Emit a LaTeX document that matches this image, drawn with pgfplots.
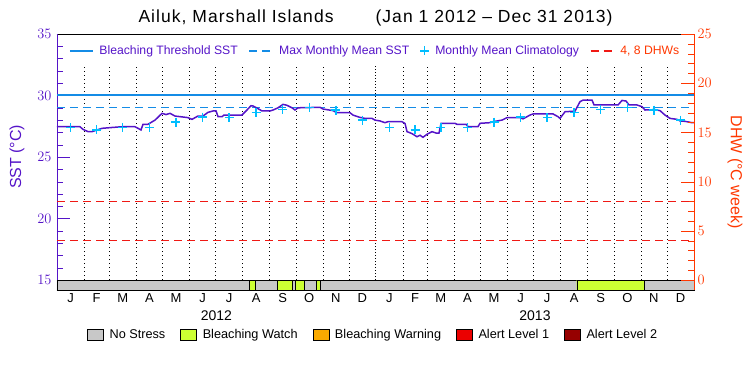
\documentclass[border=0pt]{standalone}
\usepackage{fontspec}
\setmainfont{Liberation Sans}
\usepackage{pgfplots}
\pgfplotsset{compat=1.18}
\definecolor{sst}{RGB}{85,20,200}
\definecolor{thr}{RGB}{20,140,230}
\definecolor{clim}{RGB}{0,190,255}
\definecolor{dhw}{RGB}{255,55,0}
\definecolor{dhwline}{RGB}{240,25,20}
\definecolor{nostress}{RGB}{200,200,200}
\definecolor{watch}{RGB}{204,255,51}
\definecolor{warning}{RGB}{250,170,0}
\definecolor{alertone}{RGB}{235,0,0}
\definecolor{alerttwo}{RGB}{150,0,0}
\pgfplotsset{marklegend/.style={legend image code/.code={\draw[##1] plot coordinates {(4.5pt,0pt)};}}}

\pgfplotstableread{
day sst
0 27.46
26.4 27.46
29.8 27.25
35.6 27.06
40.2 27.06
45.9 27.2
51.6 27.33
63.1 27.4
74.6 27.46
89.5 27.46
93.0 27.33
96.4 27.2
98.7 27.66
104.4 27.66
112.5 28.0
120.5 28.55
125.1 28.45
129.7 28.55
135.4 28.33
144.6 28.25
150.3 28.2
154.9 28.06
158.4 28.2
161.8 28.33
167.5 28.33
173.3 28.63
179.0 28.74
182.5 28.74
184.8 28.28
189.4 28.28
191.6 28.41
212.3 28.41
218.0 28.82
222.6 29.17
224.9 29.15
229.5 28.98
235.3 28.74
244.4 28.74
247.9 28.82
253.6 29.0
259.4 29.28
264.0 29.2
269.7 29.0
273.1 28.82
276.6 29.0
301.8 29.04
305.3 28.9
316.7 28.77
321.3 28.6
336.2 28.6
339.7 28.41
347.7 28.22
353.5 28.14
361.5 28.14
364.9 28.0
370.7 27.93
376.4 27.79
379.8 27.87
395.9 27.87
399.4 27.72
401.7 27.06
407.4 26.9
413.1 26.65
416.6 26.77
420.0 26.6
424.6 26.85
430.3 27.06
434.9 26.95
438.4 26.95
440.7 27.74
456.7 27.74
459.0 27.66
469.4 27.66
471.7 27.47
483.2 27.47
485.4 27.74
496.9 27.79
500.3 27.87
510.7 28.0
516.4 28.2
531.3 28.2
534.8 28.1
539.4 28.28
542.8 28.41
546.3 28.5
569.2 28.5
574.9 28.28
577.2 28.14
583.0 28.68
594.4 28.73
600.2 29.5
603.7 29.63
614.0 29.63
616.3 29.23
643.8 29.23
648.4 29.6
653.0 29.55
656.4 29.23
665.6 29.23
671.4 29.09
674.8 28.82
686.3 28.85
692.0 28.77
697.7 28.41
703.5 28.14
711.5 28.06
715.0 27.93
720.6 27.9
728.7 27.79
731 27.79
}\ssttable

\pgfplotstableread{
day clim
15.5 27.38
45.5 27.2
75.5 27.41
106 27.38
136.5 27.84
167 28.25
197.5 28.2
228.5 28.62
259 28.88
289.5 29.04
320 28.82
350.5 28.0
381.5 27.38
411 27.2
440.5 27.41
471 27.38
501.5 27.84
532 28.25
562.5 28.2
593.5 28.62
624 28.88
654.5 29.04
685 28.82
715.5 28.0
}\climtable

\begin{document}
\begin{tikzpicture}
\useasboundingbox (-57pt,-85pt) rectangle (693pt,290pt);
\begin{axis}[
  at={(0pt,0pt)}, anchor=south west,
  scale only axis, width=637pt, height=256pt,
  xmin=0, xmax=731, ymin=14.187, ymax=35,
  clip=false,
  axis y line*=left,
  y axis line style={draw=sst},
  tick align=inside,
  ytick={15,20,25,30,35}, minor y tick num=4,
  major tick length=13pt, minor tick length=6pt,
  ytick style={draw=sst},
  minor y tick style={draw=sst},
  yticklabel style={text=sst, font=\fontsize{14}{16}\selectfont, xshift=-2pt},
  xtick={15.5,45.5,75.5,106,136.5,167,197.5,228.5,259,289.5,320,350.5,381.5,411,440.5,471,501.5,532,562.5,593.5,624,654.5,685,715.5},
  xticklabels={J,F,M,A,M,J,J,A,S,O,N,D,J,F,M,A,M,J,J,A,S,O,N,D},
  xtick style={draw=none},
  xticklabel style={font=\fontsize{13}{15}\selectfont},
  extra x ticks={183,548.5},
  extra x tick labels={2012,2013},
  extra x tick style={xtick style={draw=none}, xticklabel style={yshift=-17pt, font=\fontsize{14}{16}\selectfont}},
  ylabel={SST (°C)},
  ylabel style={at={(axis description cs:-0.0628,0.52)}, anchor=center, text=sst, font=\fontsize{16}{18}\selectfont},
  title={\addfontfeature{LetterSpace=6}Ailuk, Marshall Islands\hspace{42pt}(Jan 1 2012 -- Dec 31 2013)},
  title style={font=\fontsize{17.5}{19}\selectfont, anchor=base, at={(axis description cs:0.5,1)}, yshift=5pt},
  legend columns=4,
  legend style={at={(axis description cs:0.0188,0.934)}, anchor=west, draw=none, fill=none, inner sep=0pt,
    font=\fontsize{12.2}{14}\selectfont, text=sst, nodes={inner xsep=0pt},
    /tikz/every odd column/.append style={column sep=6pt},
    /tikz/every even column/.append style={column sep=11pt}},
  legend image code/.code={\draw[#1] (0pt,0pt) -- (23pt,0pt);},
]
% status bar
\addplot[fill=nostress, draw=black, forget plot] coordinates {(0,14.187) (731,14.187) (731,15) (0,15) (0,14.187)};
\addplot[fill=watch, draw=black, forget plot] coordinates {(220.7,14.187) (227.6,14.187) (227.6,15) (220.7,15) (220.7,14.187)};
\addplot[fill=watch, draw=black, forget plot] coordinates {(252.8,14.187) (270.0,14.187) (270.0,15) (252.8,15) (252.8,14.187)};
\addplot[fill=watch, draw=black, forget plot] coordinates {(273.5,14.187) (283.8,14.187) (283.8,15) (273.5,15) (273.5,14.187)};
\addplot[fill=watch, draw=black, forget plot] coordinates {(297.6,14.187) (302.2,14.187) (302.2,15) (297.6,15) (297.6,14.187)};
\addplot[fill=watch, draw=black, forget plot] coordinates {(596.4,14.187) (674.0,14.187) (674.0,15) (596.4,15) (596.4,14.187)};
% month grid
\pgfplotsinvokeforeach{31,60,91,121,152,182,213,244,274,305,335,397,425,456,486,517,547,578,609,639,670,700}{
  \addplot[black, dash pattern=on 1pt off 3pt, forget plot] coordinates {(#1,15) (#1,32.48)};
}
\addplot[black, line width=0.9pt, dash pattern=on 1pt off 2pt, forget plot] coordinates {(366,15) (366,32.48)};
% lines
\addplot[thr, line width=1.3pt] coordinates {(0,30.04) (731,30.04)};
\addlegendentry{Bleaching Threshold SST}
\addplot[thr, line width=1.3pt, dash pattern=on 8pt off 5pt] coordinates {(0,29.04) (731,29.04)};
\addlegendentry{Max Monthly Mean SST}
\addplot[sst, line width=1.5pt, forget plot] table[x=day, y=sst] {\ssttable};
\addplot[clim, only marks, mark=+, mark size=4.5pt, line width=1.4pt, marklegend] table[x=day, y=clim] {\climtable};
\addlegendentry{Monthly Mean Climatology}
\addlegendimage{dhwline, line width=1.3pt, dash pattern=on 8pt off 5pt}
\addlegendentry{\textcolor{dhw}{4, 8 DHWs}}
\end{axis}

\begin{axis}[
  at={(0pt,0pt)}, anchor=south west,
  scale only axis, width=637pt, height=256pt,
  xmin=0, xmax=731, ymin=-1.016, ymax=25,
  clip=false,
  axis y line*=right, axis x line=none,
  y axis line style={draw=dhw},
  tick align=inside,
  ytick={0,5,10,15,20,25}, minor y tick num=4,
  major tick length=13pt, minor tick length=6pt,
  ytick style={draw=dhw},
  minor y tick style={draw=dhw},
  yticklabel style={text=dhw, font=\fontsize{15}{17}\selectfont},
  ylabel={DHW (°C week)},
  ylabel style={at={(axis description cs:1.0644,0.461)}, anchor=center, rotate=180, text=dhw, font=\fontsize{16}{18}\selectfont},
  legend columns=5,
  legend style={at={(axis description cs:0.0471,-0.176)}, anchor=west, draw=none, fill=none, inner sep=0pt,
    font=\fontsize{12.7}{15}\selectfont, nodes={inner xsep=0pt},
    /tikz/every odd column/.append style={column sep=6pt},
    /tikz/every even column/.append style={column sep=15pt}},
  legend image code/.code={\draw[#1] (0pt,-5.5pt) rectangle (16pt,5.5pt);},
]
\addplot[dhwline, line width=1.3pt, dash pattern=on 8pt off 5pt, forget plot] coordinates {(0,4) (731,4)};
\addplot[dhwline, line width=1.3pt, dash pattern=on 8pt off 5pt, forget plot] coordinates {(0,8) (731,8)};
\addlegendimage{fill=nostress, draw=black}
\addlegendentry{No Stress}
\addlegendimage{fill=watch, draw=black}
\addlegendentry{Bleaching Watch}
\addlegendimage{fill=warning, draw=black}
\addlegendentry{Bleaching Warning}
\addlegendimage{fill=alertone, draw=black}
\addlegendentry{Alert Level 1}
\addlegendimage{fill=alerttwo, draw=black}
\addlegendentry{Alert Level 2}
\end{axis}
\end{tikzpicture}
\end{document}
